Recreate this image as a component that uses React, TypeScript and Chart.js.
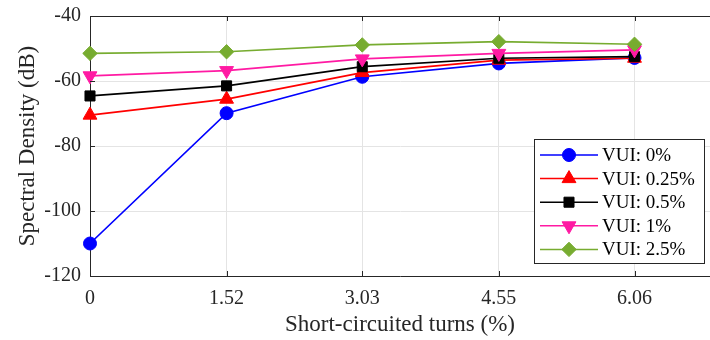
import React, { useEffect, useRef } from "react";
import { Chart, registerables } from "chart.js";
import { drawPoint } from "chart.js/helpers";

Chart.register(...registerables);

// Short-circuited turns (%) at which each spectrum was measured
const TURNS = [0, 1.52, 3.03, 4.55, 6.06];
const X_TICK_LABELS = ["0", "1.52", "3.03", "4.55", "6.06"];
const Y_TICKS = [-120, -100, -80, -60, -40];

// Spectral density (dB) for each voltage unbalance level
const VUI_0 = [-110, -69.9, -58.7, -54.6, -52.9];
const VUI_025 = [-70.5, -65.6, -57.4, -53.6, -53.0];
const VUI_05 = [-64.6, -61.5, -55.6, -53.0, -52.5];
const VUI_1 = [-58.4, -56.8, -53.2, -51.5, -50.4];
const VUI_25 = [-51.5, -51.0, -48.9, -47.9, -48.7];

const SERIES_LABELS = ["VUI: 0%", "VUI: 0.25%", "VUI: 0.5%", "VUI: 1%", "VUI: 2.5%"];

const FONT = "'Liberation Serif', 'Times New Roman', serif";
const AXIS_COLOR = "#262626";
const GRID_COLOR = "#e4e4e4";

type Style = {
  color: string;
  pointStyle: string;
  radius: number;
  rotation: number;
};

const STYLES: Style[] = [
  { color: "#0000ff", pointStyle: "circle", radius: 6.5, rotation: 0 },
  { color: "#ff0000", pointStyle: "triangle", radius: 8, rotation: 0 },
  { color: "#000000", pointStyle: "rect", radius: 7.1, rotation: 0 },
  { color: "#ff1aa3", pointStyle: "triangle", radius: 8, rotation: 180 },
  { color: "#77ac30", pointStyle: "rectRot", radius: 7.2, rotation: 0 },
];

const SERIES = [VUI_0, VUI_025, VUI_05, VUI_1, VUI_25];

// Scales keep their fixed size and never reserve extra room for edge labels
const noEdgePadding = (scale: any) => {
  scale.paddingLeft = 0;
  scale.paddingRight = 0;
  scale.paddingTop = 0;
  scale.paddingBottom = 0;
};

// Frame line along the top edge plus inward tick marks
const framePlugin = {
  id: "frame",
  afterDatasetsDraw(chart: any) {
    const { ctx, chartArea } = chart;
    const { left, right, top, bottom } = chartArea;
    const xs = chart.scales.x;
    const ys = chart.scales.y;
    ctx.save();
    ctx.strokeStyle = AXIS_COLOR;
    ctx.lineWidth = 1;
    ctx.beginPath();
    ctx.moveTo(left, top + 0.5);
    ctx.lineTo(right, top + 0.5);
    const len = 5;
    for (const v of TURNS) {
      const px = Math.round(xs.getPixelForValue(v)) + 0.5;
      ctx.moveTo(px, bottom);
      ctx.lineTo(px, bottom - len);
      ctx.moveTo(px, top);
      ctx.lineTo(px, top + len);
    }
    for (const v of Y_TICKS) {
      const py = Math.round(ys.getPixelForValue(v)) + 0.5;
      ctx.moveTo(left, py);
      ctx.lineTo(left + len, py);
    }
    ctx.stroke();
    ctx.restore();
  },
};

// Boxed legend in the lower-right corner of the plot, line sample with marker
const legendPlugin = {
  id: "boxLegend",
  afterDraw(chart: any) {
    const { ctx, chartArea } = chart;
    const boxRight = chartArea.right - 5;
    const boxLeft = boxRight - 171;
    const boxBottom = chartArea.bottom - 12;
    const boxTop = boxBottom - 125;
    ctx.save();
    ctx.fillStyle = "#ffffff";
    ctx.fillRect(boxLeft, boxTop, boxRight - boxLeft, boxBottom - boxTop);
    ctx.strokeStyle = AXIS_COLOR;
    ctx.lineWidth = 1;
    ctx.strokeRect(boxLeft + 0.5, boxTop + 0.5, boxRight - boxLeft - 1, boxBottom - boxTop - 1);
    ctx.font = `19px ${FONT}`;
    ctx.textBaseline = "middle";
    ctx.textAlign = "left";
    const rowH = 23.6;
    SERIES_LABELS.forEach((label, i) => {
      const s = STYLES[i];
      const cy = boxTop + 16 + i * rowH;
      ctx.strokeStyle = s.color;
      ctx.lineWidth = 1.5;
      ctx.beginPath();
      ctx.moveTo(boxLeft + 6, cy);
      ctx.lineTo(boxLeft + 64, cy);
      ctx.stroke();
      ctx.fillStyle = s.color;
      ctx.strokeStyle = s.color;
      ctx.lineWidth = 1;
      drawPoint(ctx, { pointStyle: s.pointStyle as any, radius: s.radius, rotation: s.rotation, borderWidth: 1 }, boxLeft + 35, cy);
      ctx.fillStyle = "#000000";
      ctx.fillText(label, boxLeft + 68, cy + 1);
    });
    ctx.restore();
  },
};

export default function App() {
  const canvasRef = useRef<HTMLCanvasElement | null>(null);

  useEffect(() => {
    document.body.style.margin = "0";
    const canvas = canvasRef.current;
    if (!canvas) return;

    const datasets = SERIES.map((values, i) => {
      const s = STYLES[i];
      return {
        label: SERIES_LABELS[i],
        data: values.map((y, j) => ({ x: TURNS[j], y })),
        borderColor: s.color,
        backgroundColor: s.color,
        borderWidth: 1.7,
        pointStyle: s.pointStyle,
        pointRadius: s.radius,
        pointRotation: s.rotation,
        pointBackgroundColor: s.color,
        pointBorderColor: s.color,
        pointBorderWidth: 1,
        tension: 0,
        clip: false,
        order: SERIES.length - 1 - i,
      };
    });

    const chart = new Chart(canvas, {
      type: "line",
      data: { datasets: datasets as any },
      options: {
        animation: false,
        responsive: false,
        maintainAspectRatio: false,
        layout: { autoPadding: false, padding: { left: 0, top: 16, right: 0, bottom: 0 } },
        plugins: {
          legend: { display: false },
          tooltip: { enabled: false },
        },
        scales: {
          x: {
            type: "linear",
            min: 0,
            max: 6.9,
            afterBuildTicks: (scale: any) => {
              scale.ticks = TURNS.map((v) => ({ value: v }));
            },
            afterFit: (scale: any) => {
              scale.height = 64;
              noEdgePadding(scale);
            },
            ticks: {
              autoSkip: false,
              maxRotation: 0,
              padding: 11,
              color: AXIS_COLOR,
              font: { family: FONT, size: 20 },
              callback: (value: any) => {
                const idx = TURNS.indexOf(Number(value));
                return idx >= 0 ? X_TICK_LABELS[idx] : "";
              },
            },
            grid: { color: GRID_COLOR, drawTicks: false, lineWidth: 1 },
            border: { display: true, color: AXIS_COLOR, width: 1 },
            title: {
              display: true,
              text: "Short-circuited turns (%)",
              color: AXIS_COLOR,
              font: { family: FONT, size: 23 },
              padding: { top: 0, bottom: 1 },
            },
          },
          y: {
            type: "linear",
            min: -120,
            max: -40,
            afterBuildTicks: (scale: any) => {
              scale.ticks = Y_TICKS.map((v) => ({ value: v }));
            },
            afterFit: (scale: any) => {
              scale.width = 90;
              noEdgePadding(scale);
            },
            ticks: {
              padding: 9,
              color: AXIS_COLOR,
              font: { family: FONT, size: 20 },
            },
            grid: { color: GRID_COLOR, drawTicks: false, lineWidth: 1 },
            border: { display: true, color: AXIS_COLOR, width: 1 },
            title: {
              display: true,
              text: "Spectral Density (dB)",
              color: AXIS_COLOR,
              font: { family: FONT, size: 23 },
              padding: { top: 14, bottom: 0 },
            },
          },
        },
      },
      plugins: [framePlugin, legendPlugin],
    });

    return () => chart.destroy();
  }, []);

  return (
    <div style={{ width: 710, height: 340 }}>
      <canvas ref={canvasRef} width={710} height={340} />
    </div>
  );
}
